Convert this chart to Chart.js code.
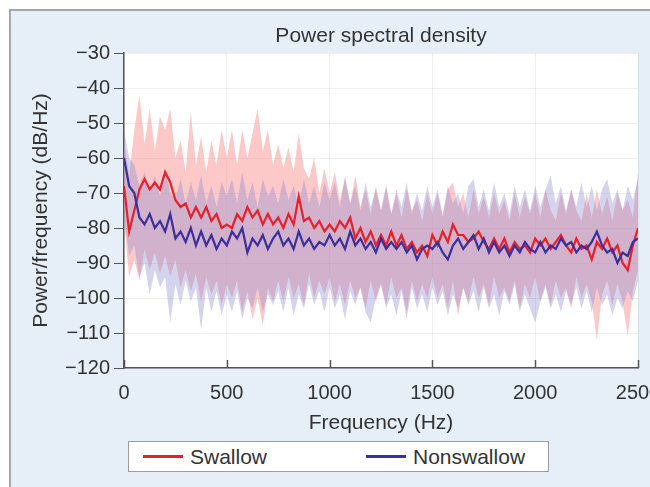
<!DOCTYPE html>
<html>
<head>
<meta charset="utf-8">
<script src="https://cdn.jsdelivr.net/npm/chart.js@4.4.1/dist/chart.umd.min.js"></script>
<style>
  html, body { margin: 0; padding: 0; background: #ffffff; }
  body { width: 650px; height: 487px; position: relative; overflow: hidden; }
  .panel {
    position: absolute; left: 9px; top: 9px; right: 0; bottom: 0;
    background: #e6eef8;
    border-left: 2px solid #a8a8a8;
    border-top: 2px solid #a8a8a8;
  }
  #psd { position: absolute; left: 0; top: 0; }
  .legend {
    position: absolute; left: 128px; top: 441px; width: 419px; height: 29px;
    background: #ffffff; border: 1.5px solid #9c9c9c;
    font-family: "Liberation Sans", Arial, sans-serif; font-size: 21px; color: #333;
  }
  .legend .item { position: absolute; top: 2px; line-height: 25px; }
  .legend .swatch { position: absolute; top: 13px; height: 2.5px; width: 40px; }
</style>
</head>
<body>
<div class="panel"></div>
<canvas id="psd" width="650" height="487"></canvas>
<div class="legend">
  <div class="swatch" style="left:14px;background:#e8202a"></div>
  <div class="item" style="left:61px">Swallow</div>
  <div class="swatch" style="left:237px;background:#3b2f9c"></div>
  <div class="item" style="left:284px">Nonswallow</div>
</div>
<script>
const freqs = [
  0, 25, 50, 75, 100, 125, 150, 175, 200, 225,
  250, 275, 300, 325, 350, 375, 400, 425, 450, 475,
  500, 525, 550, 575, 600, 625, 650, 675, 700, 725,
  750, 775, 800, 825, 850, 875, 900, 925, 950, 975,
  1000, 1025, 1050, 1075, 1100, 1125, 1150, 1175, 1200, 1225,
  1250, 1275, 1300, 1325, 1350, 1375, 1400, 1425, 1450, 1475,
  1500, 1525, 1550, 1575, 1600, 1625, 1650, 1675, 1700, 1725,
  1750, 1775, 1800, 1825, 1850, 1875, 1900, 1925, 1950, 1975,
  2000, 2025, 2050, 2075, 2100, 2125, 2150, 2175, 2200, 2225,
  2250, 2275, 2300, 2325, 2350, 2375, 2400, 2425, 2450, 2475,
  2500
];

// mean PSD (dB/Hz)
const swallowMean = [
  -68, -81, -75, -69, -66, -69, -67, -69, -64, -67,
  -72, -74, -73, -77, -74, -77, -74, -78, -76, -80,
  -79, -80, -76, -78, -74, -77, -75, -79, -76, -79,
  -77, -80, -76, -79, -71, -78, -77, -80, -78, -81,
  -79, -81, -78, -80, -77, -83, -80, -84, -81, -85,
  -82, -85, -81, -85, -82, -86, -84, -87, -85, -88,
  -82, -85, -81, -84, -79, -82, -82, -84, -83, -81,
  -84, -86, -83, -86, -83, -87, -84, -86, -85, -87,
  -83, -85, -83, -86, -84, -82, -85, -87, -83, -86,
  -85, -89, -84, -86, -83, -87, -85, -90, -92, -85,
  -80
];
const nonswallowMean = [
  -60, -68, -70, -77, -79, -76, -80, -78, -81, -76,
  -83, -81, -84, -80, -85, -81, -85, -82, -86, -83,
  -85, -81, -83, -80, -87, -83, -85, -82, -86, -83,
  -81, -85, -83, -86, -81, -85, -83, -86, -84, -85,
  -82, -85, -83, -86, -81, -85, -83, -86, -84, -87,
  -83, -86, -84, -86, -84, -87, -85, -89, -86, -85,
  -86, -84, -87, -89, -85, -83, -86, -84, -82, -86,
  -83, -87, -84, -87, -85, -88, -85, -87, -84, -86,
  -87, -84, -87, -85, -86, -83, -85, -84, -87, -85,
  -86, -84, -81, -85, -87, -86, -90, -87, -88, -84,
  -83
];

// shaded spread around each mean
const swallowUpper = [
  -55, -65, -52, -42, -56, -46, -58, -48, -52, -46,
  -60, -55, -64, -47, -62, -54, -64, -55, -62, -52,
  -60, -52, -62, -52, -60, -53, -46, -58, -52, -62,
  -56, -63, -57, -64, -53, -63, -66, -60, -70, -63,
  -70, -64, -72, -66, -73, -65, -74, -69, -76, -68,
  -75, -68, -76, -70, -77, -69, -75, -72, -78, -70,
  -76, -70, -77, -69, -67, -74, -70, -77, -69, -76,
  -71, -77, -70, -76, -72, -78, -70, -77, -71, -76,
  -70, -77, -69, -75, -78, -70, -76, -69, -75, -78,
  -70, -77, -69, -76, -71, -78, -70, -75, -72, -77,
  -64
];
const swallowLower = [
  -78, -94, -89, -95, -86, -92, -87, -93, -88, -94,
  -89, -97, -92, -98, -93, -101, -94, -99, -95, -102,
  -96, -100, -95, -104, -98, -106, -100, -108, -97, -101,
  -95, -101, -94, -100, -96, -102, -93, -100, -95, -99,
  -94, -101, -96, -102, -95, -100, -97, -103, -95, -101,
  -96, -102, -94, -100, -97, -104, -95, -101, -96, -100,
  -94, -100, -96, -103, -95, -105, -97, -101, -94, -100,
  -96, -102, -94, -100, -97, -101, -95, -103, -96, -100,
  -94, -101, -96, -102, -95, -100, -97, -103, -94, -100,
  -96, -101, -112, -99, -95, -102, -96, -101, -111, -98,
  -92
];
const nonswallowUpper = [
  -52, -60, -62, -68, -64, -70, -65, -71, -63, -70,
  -72, -66, -73, -67, -72, -65, -73, -68, -74, -67,
  -71, -66, -73, -64, -72, -67, -74, -66, -71, -68,
  -73, -66, -72, -68, -74, -66, -73, -68, -74, -67,
  -72, -67, -74, -65, -73, -68, -75, -67, -74, -69,
  -75, -68, -76, -69, -74, -67, -76, -70, -75, -68,
  -74, -69, -76, -68, -73, -70, -76, -68, -66, -74,
  -69, -75, -67, -74, -70, -76, -68, -74, -69, -75,
  -68, -74, -69, -65, -73, -68, -75, -69, -74, -67,
  -74, -68, -75, -69, -66, -73, -69, -75, -68, -72,
  -66
];
const nonswallowLower = [
  -76, -88, -85, -94, -90, -99, -92, -97, -94, -107,
  -96, -102, -95, -101, -97, -109, -97, -104, -98, -105,
  -99, -104, -98, -106, -100, -103, -97, -104, -99, -102,
  -98, -104, -97, -105, -99, -103, -96, -102, -98, -104,
  -97, -103, -99, -106, -98, -102, -97, -104, -107, -100,
  -96, -103, -99, -105, -98, -106, -97, -103, -99, -104,
  -97, -102, -98, -105, -99, -103, -97, -102, -98, -104,
  -97, -103, -99, -105, -98, -102, -96, -104, -99, -103,
  -107, -101, -97, -103, -99, -104, -98, -102, -97, -103,
  -98, -104, -97, -102, -99, -105, -100, -103, -98, -101,
  -95
];

const xTicks = [0, 500, 1000, 1500, 2000, 2500];
const yTicks = [-30, -40, -50, -60, -70, -80, -90, -100, -110, -120];

const FONT = "'Liberation Sans', Arial, sans-serif";
const TEXT = "#333333";
const AXIS = "#555555";

const pts = (vals) => freqs.map((f, i) => ({ x: f, y: vals[i] }));

// white plot area, inward x ticks and title
const plotDecor = {
  id: "plotDecor",
  beforeDraw(chart) {
    const { ctx, chartArea: a } = chart;
    ctx.save();
    ctx.fillStyle = "#ffffff";
    ctx.fillRect(a.left, a.top, a.right - a.left, a.bottom - a.top);
    ctx.restore();
  },
  afterDraw(chart) {
    const { ctx, chartArea: a, scales } = chart;
    ctx.save();
    ctx.strokeStyle = AXIS;
    ctx.lineWidth = 1.5;
    xTicks.forEach((v) => {
      const px = Math.round(scales.x.getPixelForValue(v)) + 0.5;
      ctx.beginPath();
      ctx.moveTo(px, a.bottom);
      ctx.lineTo(px, a.bottom - 8);
      ctx.stroke();
    });
    ctx.fillStyle = TEXT;
    ctx.font = "21px " + FONT;
    ctx.textAlign = "center";
    ctx.textBaseline = "middle";
    ctx.fillText("Power spectral density", (a.left + a.right) / 2, 36);
    ctx.restore();
  },
};

const ds = (label, vals, opts) => Object.assign({
  label: label,
  data: pts(vals),
  pointRadius: 0,
  tension: 0,
  fill: false,
}, opts);

new Chart(document.getElementById("psd"), {
  type: "line",
  data: {
    datasets: [
      ds("Nonswallow", nonswallowMean, { borderColor: "#3b2f9c", borderWidth: 2.2 }),
      ds("Swallow", swallowMean, { borderColor: "#e8202a", borderWidth: 2.2 }),
      ds("nsUpper", nonswallowUpper, { borderWidth: 0, borderColor: "rgba(0,0,0,0)" }),
      ds("nsLower", nonswallowLower, { borderWidth: 0, borderColor: "rgba(0,0,0,0)", fill: "-1", backgroundColor: "rgba(135,135,210,0.36)" }),
      ds("swUpper", swallowUpper, { borderWidth: 0, borderColor: "rgba(0,0,0,0)" }),
      ds("swLower", swallowLower, { borderWidth: 0, borderColor: "rgba(0,0,0,0)", fill: "-1", backgroundColor: "rgba(250,145,145,0.5)" }),
    ],
  },
  options: {
    responsive: false,
    animation: false,
    devicePixelRatio: 1,
    layout: { padding: { left: 0, top: 53, right: 12, bottom: 0 } },
    plugins: {
      legend: { display: false },
      tooltip: { enabled: false },
    },
    scales: {
      x: {
        type: "linear",
        min: 0,
        max: 2500,
        afterBuildTicks: (s) => { s.ticks = xTicks.map((v) => ({ value: v })); },
        afterFit: (s) => { s.height = 119; s.paddingLeft = 0; s.paddingRight = 0; },
        grid: { color: "rgba(0,0,0,0.06)", drawTicks: false },
        border: { color: AXIS, width: 1.5 },
        ticks: {
          color: TEXT,
          padding: 13,
          maxRotation: 0,
          font: { family: FONT, size: 20 },
          callback: (v) => String(v),
        },
        title: {
          display: true,
          text: "Frequency (Hz)",
          color: TEXT,
          font: { family: FONT, size: 21 },
          padding: { top: 0, bottom: 51 },
        },
      },
      y: {
        min: -120,
        max: -30,
        afterBuildTicks: (s) => { s.ticks = yTicks.map((v) => ({ value: v })); },
        afterFit: (s) => { s.width = 124; },
        grid: { color: "rgba(0,0,0,0.06)", tickColor: AXIS, tickLength: 10 },
        border: { color: AXIS, width: 1.5 },
        ticks: {
          color: TEXT,
          padding: 4,
          font: { family: FONT, size: 20 },
          callback: (v) => String(v).replace("-", "\u2212"),
        },
        title: {
          display: true,
          text: "Power/frequency (dB/Hz)",
          color: TEXT,
          font: { family: FONT, size: 21 },
          padding: { top: 29, bottom: 0 },
        },
      },
    },
  },
  plugins: [plotDecor],
});
</script>
</body>
</html>
